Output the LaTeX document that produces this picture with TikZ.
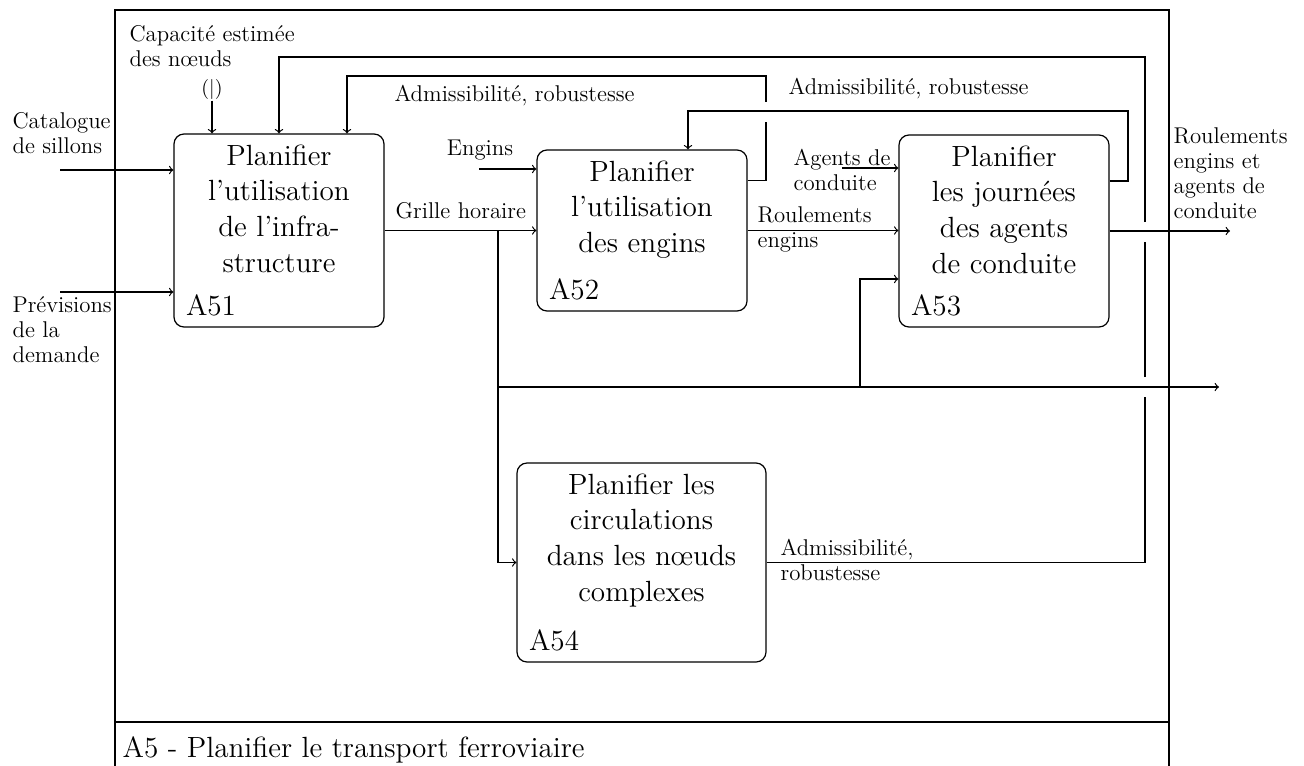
\documentclass[tikz,border=0pt]{standalone}
\usepackage{fontspec}
\newcommand\bxfont{\fontsize{14.6}{17.85}\selectfont}
\newcommand\lbfont{\fontsize{11.4}{12.5}\selectfont}
\newcommand\tnfont{\fontsize{10}{12}\selectfont}
\begin{document}
\begin{tikzpicture}[x=0.5pt,y=-0.5pt,line width=0.6pt,
  proc/.style={draw,rounded corners=5pt,inner sep=0pt},
  btxt/.style={font=\bxfont,align=center,inner sep=0pt,anchor=north},
  bid/.style={font=\bxfont,inner sep=0pt,anchor=base west},
  lab/.style={font=\lbfont,align=left,inner sep=0pt},
  >=to]
\useasboundingbox (0,0) rectangle (1304,765);
% frame
\draw (115,775) -- (115,10) -- (1169,10) -- (1169,775);
\draw (115,722) -- (1169,722);
\node[bid] (title) at (122,757) {A5 - Planifier le transport ferroviaire};

% boxes
\node[proc,minimum width=105pt,minimum height=96.5pt] (A51) at (279,230.5) {};
\node[proc,minimum width=105pt,minimum height=80.5pt] (A52) at (642,230.5) {};
\node[proc,minimum width=105pt,minimum height=96pt] (A53) at (1004,231) {};
\node[proc,minimum width=124.5pt,minimum height=99.5pt] (A54) at (641.5,562.5) {};

\node[btxt] (A51t) at ([yshift=-5.3pt]A51.north) {Planifier\\l'utilisation\\de l'infra-\\structure};
\node[btxt] (A52t) at ([yshift=-5.3pt]A52.north) {Planifier\\l'utilisation\\des engins};
\node[btxt] (A53t) at ([yshift=-5.3pt]A53.north) {Planifier\\les journées\\des agents\\de conduite};
\node[btxt] (A54t) at ([yshift=-5.3pt]A54.north) {Planifier les\\circulations\\dans les nœuds\\complexes};

\node[bid] (A51i) at ([shift={(12,-12)}]A51.south west) {A51};
\node[bid] (A52i) at ([shift={(12,-12)}]A52.south west) {A52};
\node[bid] (A53i) at ([shift={(12,-12)}]A53.south west) {A53};
\node[bid] (A54i) at ([shift={(12,-12)}]A54.south west) {A54};

% inputs to A51
\coordinate (catS) at (60,170);
\draw[->] (catS) -- (catS -| A51.west);
\node[lab,anchor=north west] (catL) at (12,112.3) {Catalogue\\de sillons};
\coordinate (prevS) at (60,292);
\draw[->] (prevS) -- (prevS -| A51.west);
\node[lab,anchor=north west] (prevL) at (12,296.3) {Prévisions\\de la\\demande};

% control capacité
\node[lab,anchor=north west] (capL) at (129,24.8) {Capacité estimée\\des nœuds};
\node[lab,font=\tnfont] (tun) at (212,90) {(|)};
\draw[->] (tun.south) -- (tun.south |- A51.north);

% grille horaire
\draw[->] (A51.east) -- (A52.west);
\node[lab,anchor=base west] (ghL) at (395,218) {Grille horaire};
\coordinate (gh) at (498,230.5);
\coordinate (split) at (498,387);
\coordinate (c53) at (860,387);
\coordinate (outB) at (1219,387);
\draw[->] (gh) -- (split) |- (A54.west);
\draw[->] (split) -- (outB);
\draw[->] (c53) |- ([yshift=-24pt]A53.west);

% engins
\coordinate (engS) at (479,169);
\draw[->] (engS) -- (engS -| A52.west);
\node[lab,anchor=base] (engL) at (480,155) {Engins};

% roulements engins
\draw[->] (A52.east) -- (A52.east -| A53.west);
\node[lab,anchor=north west] (reL) at (757,206.3) {Roulements\\engins};

% agents de conduite
\coordinate (agS) at (842,168);
\draw[->] (agS) -- (agS -| A53.west);
\node[lab,anchor=north west] (agL) at (793,148.3) {Agents de\\conduite};

% output
\coordinate (outE) at (1230,231);
\draw[->] (A53.east) -- (outE);
\node[lab,anchor=north west] (outL) at (1173,127.3) {Roulements\\engins et\\agents de\\conduite};

% feedback A53 -> A52
\draw[->] ([yshift=25pt]A53.east) -| (1128,111) -| ([xshift=23pt]A52.north);
\node[lab,anchor=base west] (fb3L) at (788,95) {Admissibilité, robustesse};

% feedback A52 -> A51
\draw[->] ([yshift=25pt]A52.east) -| (766,122) (766,102) -- (766,76) -| ([xshift=34pt]A51.north);
\node[lab,anchor=base west] (fb2L) at (394,102) {Admissibilité, robustesse};

% feedback A54 -> A51
\draw[->] (A54.east) -| (1145,397) (1145,377) -- (1145,242) (1145,222) -- (1145,57) -| (A51.north);
\node[lab,anchor=north west] (fb4L) at (780,538.3) {Admissibilité,\\robustesse};
\end{tikzpicture}
\end{document}
